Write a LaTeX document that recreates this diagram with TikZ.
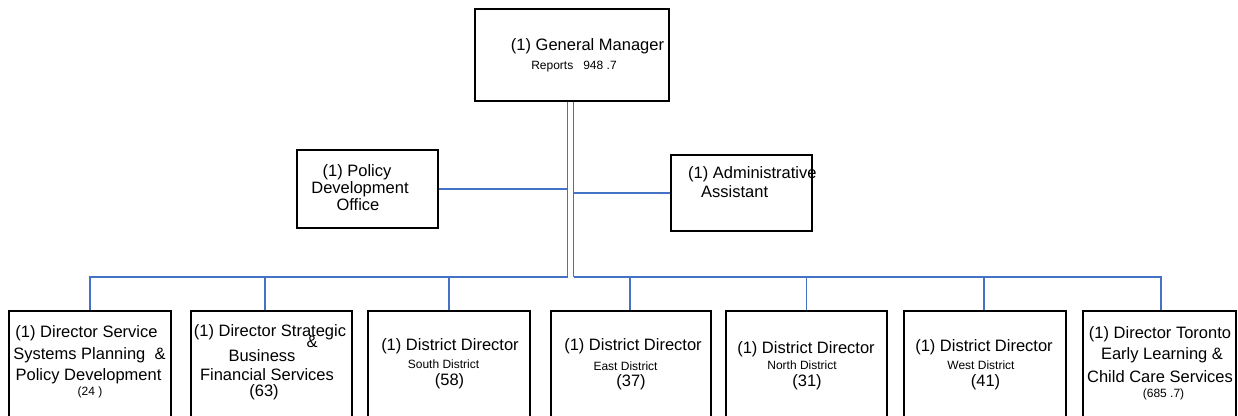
\documentclass[tikz,border=0pt]{standalone}
\usepackage{fontspec}
\setmainfont{Liberation Sans}
\definecolor{lineblue}{RGB}{68,114,196}
\begin{document}
\begin{tikzpicture}[x=1pt,y=-1pt,
  box/.style={draw=black, line width=1.1pt, rectangle, inner sep=0pt},
  conn/.style={draw=lineblue, line width=1.5pt},
  big/.style={inner sep=0pt, font=\fontsize{16.5}{18}\selectfont},
  small/.style={inner sep=0pt, font=\fontsize{12}{14}\selectfont}]
\path[use as bounding box] (0,0) rectangle (1238,415);
\clip (0,0) rectangle (1238,415);
% boxes
\node[box, minimum width=194pt, minimum height=92pt] (gm) at (572,55) {};
\node[box, minimum width=141pt, minimum height=78pt] (pol) at (367.5,189) {};
\node[box, minimum width=141pt, minimum height=76pt] (adm) at (741.5,193) {};
\node[box, minimum width=162pt, minimum height=120pt] (b1) at (90,371) {};
\node[box, minimum width=161pt, minimum height=120pt] (b2) at (271.5,371) {};
\node[box, minimum width=162pt, minimum height=120pt] (b3) at (449,371) {};
\node[box, minimum width=160pt, minimum height=120pt] (b4) at (631,371) {};
\node[box, minimum width=161pt, minimum height=120pt] (b5) at (806.5,371) {};
\node[box, minimum width=162pt, minimum height=120pt] (b6) at (985,371) {};
\node[box, minimum width=153pt, minimum height=120pt] (b7) at (1159.5,371) {};
% texts
\node[big] (gmt1) at (587.5,46) {(1) General Manager};
\node[small] (gmt2) at (574,67) {Reports~~~948~.7};
\node[big] (pt1) at (357,172) {(1) Policy};
\node[big] (pt2) at (360,189) {Development};
\node[big] (pt3) at (358,205) {Office};
\node[big, anchor=west] (at1) at (688,174) {(1) Administrative};
\node[big, anchor=west] (at2) at (701,192) {Assistant};
\node[big] (b1t1) at (86.5,333) {(1) Director Service};
\node[big] (b1t2) at (89.5,355) {Systems Planning~~\&};
\node[big] (b1t3) at (88.5,376) {Policy Development};
\node[small] (b1t4) at (90,392) {(24~)};
\node[big] (b2t1) at (270,332) {(1) Director Strategic};
\node[big] (b2t2) at (312,342) {\&};
\node[big] (b2t3) at (262,356) {Business};
\node[big] (b2t4) at (267,375) {Financial Services};
\node[big] (b2t5) at (264,392) {(63)};
\node[big] (b3t1) at (450,346) {(1) District Director};
\node[small] (b3t2) at (443.5,364) {South District};
\node[big] (b3t3) at (449.5,381) {(58)};
\node[big] (b4t1) at (633,346) {(1) District Director};
\node[small] (b4t2) at (625.5,366) {East District};
\node[big] (b4t3) at (631,382) {(37)};
\node[big] (b5t1) at (806,349) {(1) District Director};
\node[small] (b5t2) at (802,365) {North District};
\node[big] (b5t3) at (807,382) {(31)};
\node[big] (b6t1) at (984,347) {(1) District Director};
\node[small] (b6t2) at (981,365) {West District};
\node[big] (b6t3) at (985.5,382) {(41)};
\node[big] (b7t1) at (1160,334) {(1) Director Toronto};
\node[big] (b7t2) at (1162,355) {Early Learning \&};
\node[big] (b7t3) at (1160,377) {Child Care Services};
\node[small] (b7t4) at (1163.5,394) {(685~.7)};
% connectors
\coordinate (jL) at (567.5,277);
\coordinate (jR) at (573.5,277);
\draw[conn] ([xshift=-4.5pt]gm.south) -- (jL);
\draw[conn] ([xshift=1.5pt]gm.south) -- (jR);
\draw[conn] (pol.east) -- (pol.east -| jL);
\draw[conn] (adm.west) -- (adm.west -| jR);
\draw[conn] (jL) -| (b1.north);
\draw[conn] (jL) -| ([xshift=-6.5pt]b2.north);
\draw[conn] (jL) -| (b3.north);
\draw[conn] (jR) -| ([xshift=-1pt]b4.north);
\draw[conn] (jR) -| (b5.north);
\draw[conn] (jR) -| ([xshift=-1pt]b6.north);
\draw[conn] (jR) -| ([xshift=1.5pt]b7.north);
\end{tikzpicture}
\end{document}
